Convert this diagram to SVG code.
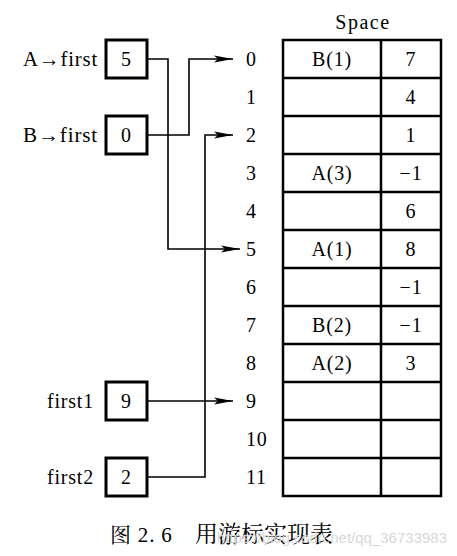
<svg xmlns="http://www.w3.org/2000/svg" width="457" height="556" viewBox="0 0 457 556">
<style>
text{font-family:"Liberation Serif","Noto Serif CJK SC","Noto Sans CJK SC",serif;font-size:20px;fill:#000;letter-spacing:0.8px}
.m{text-anchor:middle}
.e{text-anchor:end}
.box{fill:#fff;stroke:#000;stroke-width:3}
.grid{fill:none;stroke:#000;stroke-width:2.5}
.c{fill:none;stroke:#000;stroke-width:1.6}
</style>
<defs>
<marker id="ah" markerWidth="20" markerHeight="8" refX="19" refY="4" orient="auto" markerUnits="userSpaceOnUse">
<path d="M0,0.5 L19,4 L0,7.5 L4,4 Z" fill="#000"/>
</marker>
</defs>
<rect width="457" height="556" fill="#fff"/>
<g id="table">
<text class="m" x="363" y="29" style="letter-spacing:1.5px">Space</text>
<rect class="grid" x="283" y="40" width="158" height="456"/>
<line class="grid" x1="381" y1="40" x2="381" y2="496"/>
<path class="grid" d="M283,78H441M283,116H441M283,154H441M283,192H441M283,230H441M283,268H441M283,306H441M283,344H441M283,382H441M283,420H441M283,458H441"/>
<g class="m">
<text x="332" y="66">B(1)</text><text x="411" y="66">7</text>
<text x="411" y="104">4</text>
<text x="411" y="142">1</text>
<text x="332" y="180">A(3)</text><text x="411" y="180">−1</text>
<text x="411" y="218">6</text>
<text x="332" y="256">A(1)</text><text x="411" y="256">8</text>
<text x="411" y="294">−1</text>
<text x="332" y="332">B(2)</text><text x="411" y="332">−1</text>
<text x="332" y="370">A(2)</text><text x="411" y="370">3</text>
</g>
<g>
<text x="246" y="66">0</text><text x="246" y="104">1</text><text x="246" y="142">2</text>
<text x="246" y="180">3</text><text x="246" y="218">4</text><text x="246" y="256">5</text>
<text x="246" y="294">6</text><text x="246" y="332">7</text><text x="246" y="370">8</text>
<text x="246" y="408">9</text><text x="246" y="446">10</text><text x="246" y="484">11</text>
</g>
</g>
<g id="connectors">
<path class="c" d="M147,59H168V249H240" marker-end="url(#ah)"/>
<path class="c" d="M147,135H189V59H233" marker-end="url(#ah)"/>
<path class="c" d="M147,401H233" marker-end="url(#ah)"/>
<path class="c" d="M147,477H205V135H233" marker-end="url(#ah)"/>
</g>
<g id="afirst">
<text x="23" y="66" textLength="75" lengthAdjust="spacingAndGlyphs">A→first</text>
<rect class="box" x="106" y="40" width="41" height="38"/>
<text class="m" x="126.5" y="66">5</text>
</g>
<g id="bfirst">
<text x="23" y="142" textLength="75" lengthAdjust="spacingAndGlyphs">B→first</text>
<rect class="box" x="106" y="116" width="41" height="38"/>
<text class="m" x="126.5" y="142">0</text>
</g>
<g id="first1">
<text class="e" x="94" y="408">first1</text>
<rect class="box" x="106" y="382" width="41" height="38"/>
<text class="m" x="126.5" y="408">9</text>
</g>
<g id="first2">
<text class="e" x="94" y="484">first2</text>
<rect class="box" x="106" y="458" width="41" height="38"/>
<text class="m" x="126.5" y="484">2</text>
</g>
<text x="110" y="542" style="font-size:21px">图 2. 6</text>
<text x="195" y="542" style="font-size:23px;letter-spacing:0">用游标实现表</text>
<text class="e" x="447" y="543" style="font-family:'Liberation Sans',sans-serif;font-size:15px;fill:#d8d8d8;letter-spacing:0">https://blog.csdn.net/qq_36733983</text>
</svg>
